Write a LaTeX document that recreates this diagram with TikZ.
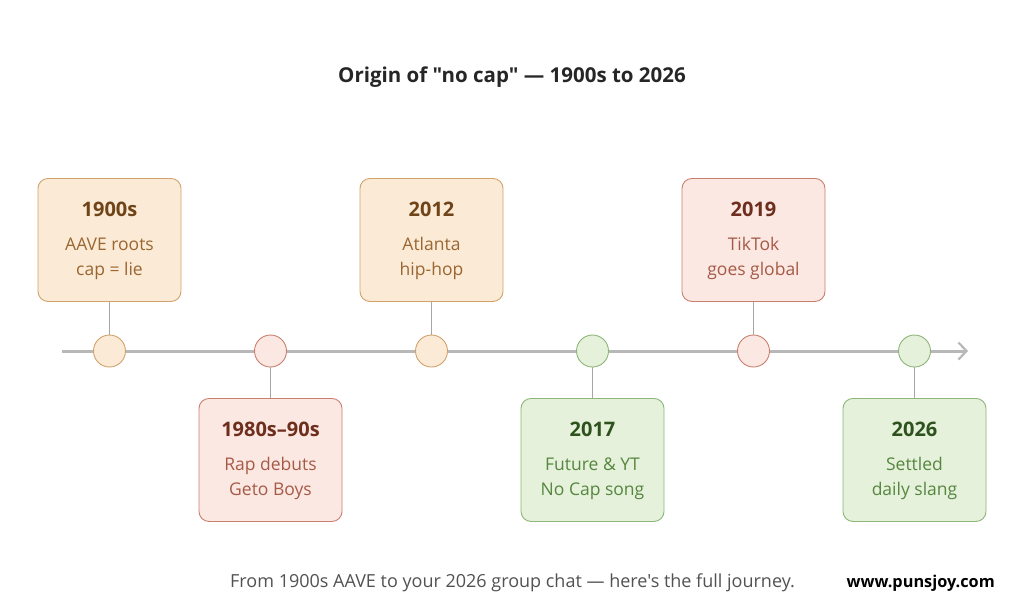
\documentclass[tikz,border=0pt]{standalone}
\usepackage{fontspec}
\setmainfont{Open Sans}[Ligatures=TeXOff]
\usetikzlibrary{arrows.meta}
\definecolor{ofill}{HTML}{FBEBD6}
\definecolor{odraw}{HTML}{D2A26C}
\definecolor{oyear}{HTML}{6E4418}
\definecolor{otext}{HTML}{9A6632}
\definecolor{pfill}{HTML}{FBE8E3}
\definecolor{pdraw}{HTML}{C9806E}
\definecolor{pyear}{HTML}{6E2E1E}
\definecolor{ptext}{HTML}{A65A46}
\definecolor{gfill}{HTML}{E5F1DA}
\definecolor{gdraw}{HTML}{8DB679}
\definecolor{gyear}{HTML}{2E521E}
\definecolor{gtext}{HTML}{568640}
\definecolor{axis}{HTML}{B8B8B8}
\tikzset{
  evbox/.style={draw=#1draw, fill=#1fill, rounded corners=10pt, line width=0.9pt,
    minimum width=143pt, minimum height=123pt, inner sep=0pt},
  dot/.style={circle, draw=#1draw, fill=#1fill, line width=0.9pt, minimum size=32pt, inner sep=0pt},
  stem/.style={draw=axis!90!black, line width=1pt},
  yr/.style={font=\fontsize{20}{24}\selectfont\bfseries, text=#1year, anchor=base},
  body/.style={font=\fontsize{17.5}{21}\selectfont, text=#1text, anchor=base},
}
\newcommand{\evt}[7]{%
  % #1 name, #2 x, #3 box top y, #4 style, #5 year, #6 line1, #7 line2
  \node[evbox=#4, anchor=north] (#1) at (#2,#3) {};
  \node[yr=#4] (#1y) at (#2,#3+38) {#5};
  \node[body=#4] (#1a) at (#2,#3+72) {#6};
  \node[body=#4] (#1b) at (#2,#3+97) {#7};
}
\begin{document}
\begin{tikzpicture}[x=1pt,y=-1pt]
\useasboundingbox (0,0) rectangle (1024,614);
\fill[white] (0,0) rectangle (1024,614);
\node[font=\fontsize{20.5}{24}\selectfont\bfseries, text=black!85, anchor=base] (title) at (512,82) {Origin of "no cap" — 1900s to 2026};
\coordinate (axs) at (62,351);
\coordinate (axe) at (968,351);
\draw[axis, line width=3pt, -{Straight Barb[length=8pt,width=17pt,line width=2.2pt]}] (axs) -- (axe);
\evt{e1}{109.5}{178}{o}{1900s}{AAVE roots}{cap = lie}
\evt{e2}{270.5}{398}{p}{1980s–90s}{Rap debuts}{Geto Boys}
\evt{e3}{431.5}{178}{o}{2012}{Atlanta}{hip-hop}
\evt{e4}{592.5}{398}{g}{2017}{Future \& YT}{No Cap song}
\evt{e5}{753.5}{178}{p}{2019}{TikTok}{goes global}
\evt{e6}{914.5}{398}{g}{2026}{Settled}{daily slang}
\node[dot=o] (d1) at (109.5,351) {};
\node[dot=p] (d2) at (270.5,351) {};
\node[dot=o] (d3) at (431.5,351) {};
\node[dot=g] (d4) at (592.5,351) {};
\node[dot=p] (d5) at (753.5,351) {};
\node[dot=g] (d6) at (914.5,351) {};
\draw[stem] (e1.south) -- (d1.north);
\draw[stem] (d2.south) -- (e2.north);
\draw[stem] (e3.south) -- (d3.north);
\draw[stem] (d4.south) -- (e4.north);
\draw[stem] (e5.south) -- (d5.north);
\draw[stem] (d6.south) -- (e6.north);
\node[font=\fontsize{18}{21}\selectfont, text=black!68, anchor=base west, inner sep=0pt] (foot) at (230,587) {From 1900s AAVE to your 2026 group chat — here's the full journey.};
\node[font=\fontsize{16.3}{19}\selectfont\bfseries, text=black, anchor=base east, inner sep=0pt] (web) at (995,587) {www.punsjoy.com};
\end{tikzpicture}
\end{document}
